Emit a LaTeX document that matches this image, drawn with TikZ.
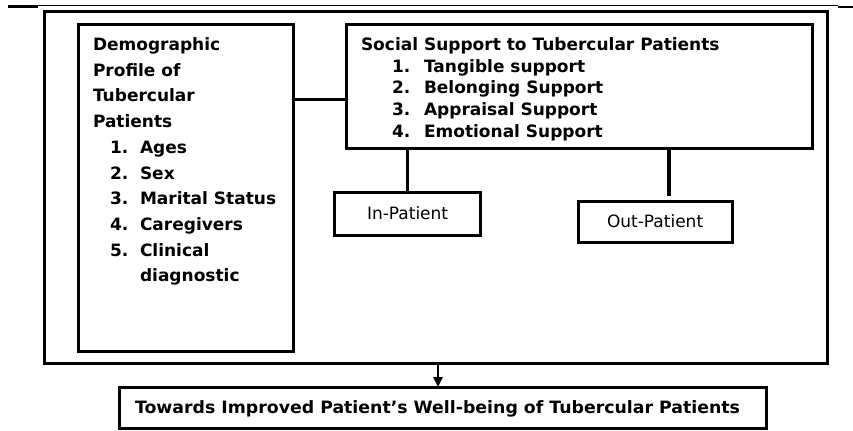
\documentclass[tikz,border=0pt]{standalone}
\usepackage{fontspec}
\usepackage{graphicx}
\setmainfont{DejaVu Sans}
\usetikzlibrary{calc,arrows.meta}
\tikzset{
  box/.style={draw=black, line width=3bp, rectangle, inner sep=0pt, outer sep=0pt, anchor=north west},
  conn/.style={draw=black, line width=3bp},
  txt/.style={anchor=base west, inner sep=0pt, outer sep=0pt, font=\fontsize{17bp}{20bp}\selectfont\bfseries},
  rtxt/.style={anchor=base west, inner sep=0pt, outer sep=0pt, font=\fontsize{17bp}{20bp}\selectfont},
  rule/.style={draw=black, line width=1.3bp}
}
\begin{document}
\begin{tikzpicture}[x=1bp,y=-1bp]
\useasboundingbox (0,0) rectangle (853,430);
% top rule
\draw[rule] (8,5.5) -- (838,5.5);
\draw[rule] (8,7) -- (38,7);
\draw[rule] (838,7) -- (853,7);
% boxes
\node[box, minimum width=783bp, minimum height=352bp] (outer) at (44,11) {};
\node[box, minimum width=215bp, minimum height=327bp] (demo) at (78,24) {};
\node[box, minimum width=466bp, minimum height=124bp] (social) at (346,24) {};
\node[box, minimum width=146bp, minimum height=43bp] (inp) at (334,192) {};
\node[box, minimum width=154bp, minimum height=41bp] (outp) at (578,201) {};
\node[box, minimum width=647bp, minimum height=41bp] (final) at (119,387) {};
% left box texts
\node[txt] (d1) at (93,50.5) {Demographic};
\node[txt] (d2) at (93,76.2) {Profile of};
\node[txt] (d3) at (93,101.9) {Tubercular};
\node[txt] (d4) at (93,127.6) {Patients};
\node[txt] (n1) at (110,153.3) {1.};
\node[txt] (i1) at (140,153.3) {Ages};
\node[txt] (n2) at (110,179) {2.};
\node[txt] (i2) at (140,179) {Sex};
\node[txt] (n3) at (110,204.7) {3.};
\node[txt] (i3) at (140,204.7) {Marital Status};
\node[txt] (n4) at (110,230.4) {4.};
\node[txt] (i4) at (140,230.4) {Caregivers};
\node[txt] (n5) at (110,256.1) {5.};
\node[txt] (i5) at (140,256.1) {Clinical};
\node[txt] (i5b) at (140,281.8) {diagnostic};
% social texts
\node[txt] (s0) at (361,50.5) {Social Support to Tubercular Patients};
\node[txt] (m1) at (392,72.2) {1.};
\node[txt] (s1) at (424,72.2) {Tangible support};
\node[txt] (m2) at (392,93.9) {2.};
\node[txt] (s2) at (424,93.9) {Belonging Support};
\node[txt] (m3) at (392,115.6) {3.};
\node[txt] (s3) at (424,115.6) {Appraisal Support};
\node[txt] (m4) at (392,137.3) {4.};
\node[txt] (s4) at (424,137.3) {Emotional Support};
% patient texts
\node[rtxt] (tin) at (367,219) {In-Patient};
\node[rtxt] (tout) at (607,227.7) {Out-Patient};
% final text
\node[txt] (tfin) at (135,413) {\resizebox{605bp}{\height}{Towards Improved Patient’s Well-being of Tubercular Patients}};
% connectors
\coordinate (j) at ($(social.north west)!0.61!(social.south west)$);
\draw[conn, line width=3.5bp] (demo.east |- j) -- (j);
\draw[conn] (inp.north) -- (inp.north |- social.south);
\coordinate (oc) at ($(outp.north)+(14,0)$);
\draw[conn, line width=4bp] (oc |- social.south) -- ($(oc)+(0,-5)$);
\coordinate (ar) at ($(final.north)+(-4.5,0)$);
\draw[line width=2.5bp, -{Triangle[length=10bp,width=9bp]}] (ar |- outer.south) -- (ar);
\end{tikzpicture}
\end{document}
